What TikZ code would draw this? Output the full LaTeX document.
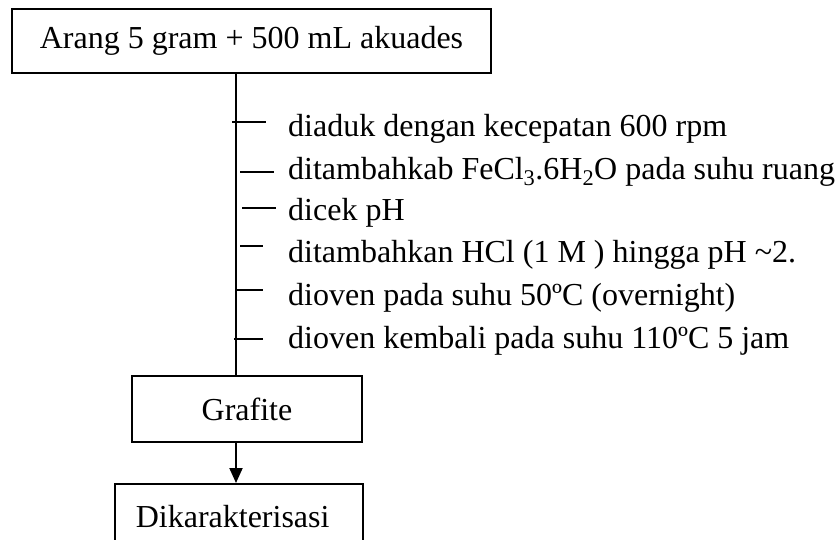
\documentclass[tikz,border=0pt]{standalone}
\usepackage{fontspec}
\setmainfont{Liberation Serif}
\usetikzlibrary{arrows.meta}
\tikzset{box/.style={draw,line width=1.6pt,inner sep=0pt},
  step label/.style={anchor=base west,inner sep=0pt}}

\begin{document}
\begin{tikzpicture}[x=1pt,y=-1pt,font=\fontsize{32}{36}\selectfont]
    \useasboundingbox (0,0) rectangle (839,539);
    \node[box,minimum width=479pt,minimum height=64pt] (bahan) at (251.5,41) {Arang 5 gram + 500 mL akuades};
    \node[box,minimum width=230pt,minimum height=66pt] (grafit) at (247,409) {Grafite};
    \node[box,anchor=north west,minimum height=66pt,text width=206pt,inner xsep=21pt,align=left] (karakter) at (114,483) {Dikarakterisasi};
    \coordinate (spine) at (236,0);
    \draw[line width=2pt] (bahan.south -| spine) -- (grafit.north -| spine);
    \draw[line width=2pt,-{Triangle[length=15pt,width=13pt]}] (grafit.south -| spine) -- (karakter.north -| spine);
    % langkah perlakuan
    \node[step label] (l1) at (288,136) {diaduk dengan kecepatan 600 rpm};
    \node[step label] (l2) at (288,179) {ditambahkab FeCl\textsubscript{3}.6H\textsubscript{2}O pada suhu ruang};
    \node[step label] (l3) at (288,220) {dicek pH};
    \node[step label] (l4) at (288,262) {ditambahkan HCl (1 M ) hingga pH \textasciitilde2.};
    \node[step label] (l5) at (288,305) {dioven pada suhu 50ºC (overnight)};
    \node[step label] (l6) at (288,348) {dioven kembali pada suhu 110ºC 5 jam};
    \foreach \ty/\xa/\xb in {122/232/266,172/240/274,208/242/276,246/240/263,290/236/263,339/234/263}
    \draw[line width=1.6pt] (\xa,\ty)--(\xb,\ty);
\end{tikzpicture}
\end{document}
